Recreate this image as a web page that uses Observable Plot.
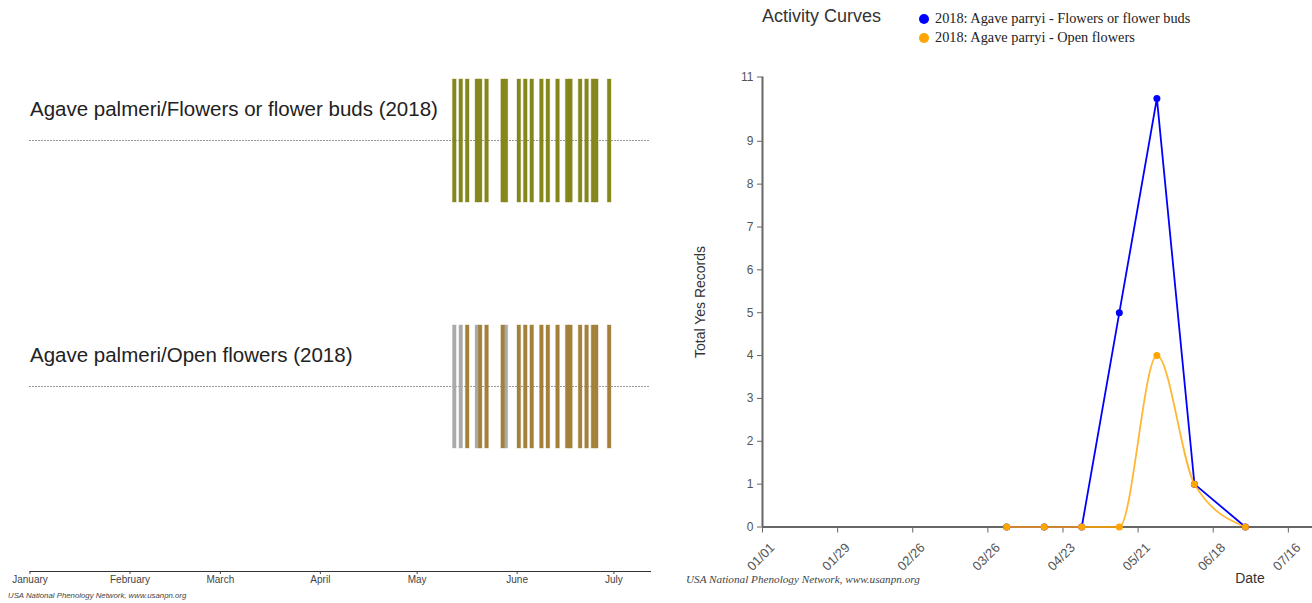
<!DOCTYPE html>
<html><head><meta charset="utf-8">
<script src="https://cdn.jsdelivr.net/npm/d3@7"></script>
<script src="https://cdn.jsdelivr.net/npm/@observablehq/plot@0.6"></script>
<style>
body{margin:0;background:#fff;}
#wrap{position:relative;width:1312px;height:603px;overflow:hidden;}
.abs{position:absolute;white-space:nowrap;line-height:1;}
.sans{font-family:"Liberation Sans",Arial,sans-serif;}
.serif{font-family:"Liberation Serif","Times New Roman",serif;}
.sw{position:absolute;width:10px;height:10px;border-radius:50%;}
</style></head><body><div id="wrap"></div>
<script>
// ---------- data ----------
const rows = ["Agave palmeri/Flowers or flower buds (2018)", "Agave palmeri/Open flowers (2018)"];
const budDates = ["2018-05-13","2018-05-15","2018-05-17","2018-05-20","2018-05-21","2018-05-23","2018-05-28","2018-05-29",
  "2018-06-02","2018-06-04","2018-06-06","2018-06-09","2018-06-11","2018-06-14","2018-06-17","2018-06-18",
  "2018-06-21","2018-06-23","2018-06-25","2018-06-26","2018-06-30"];
const openNoDates = ["2018-05-13","2018-05-15","2018-05-20","2018-05-29"];
const openYesDates = ["2018-05-17","2018-05-21","2018-05-23","2018-05-28",
  "2018-06-02","2018-06-04","2018-06-06","2018-06-09","2018-06-11","2018-06-14","2018-06-17","2018-06-18",
  "2018-06-21","2018-06-23","2018-06-25","2018-06-26","2018-06-30"];
const monthTicks = ["2018-01-01","2018-02-01","2018-03-01","2018-04-01","2018-05-01","2018-06-01","2018-07-01"];

const curveDates = ["2018-04-02","2018-04-16","2018-04-30","2018-05-14","2018-05-28","2018-06-11","2018-06-30"];
const budCounts  = [0, 0, 0, 5, 10, 1, 0];
const openCounts = [0, 0, 0, 0, 4, 1, 0];
const dateTicks = ["2018-01-01","2018-01-29","2018-02-26","2018-03-26","2018-04-23","2018-05-21","2018-06-18","2018-07-16"];
const yMax = 10.5;
const yTicks = [0, 1, 2, 3, 4, 5, 6, 7, 8, 9, yMax];
const seriesNames = ["2018: Agave parryi - Flowers or flower buds", "2018: Agave parryi - Open flowers"];
const seriesColors = ["blue", "orange"];

// ---------- build ----------
const parse = d3.utcParse("%Y-%m-%d");
const wrap = document.getElementById("wrap");
const font = "Liberation Sans, Arial, sans-serif";

const calData = [
  ...budDates.map(d => ({row: rows[0], date: parse(d), status: "buds"})),
  ...openNoDates.map(d => ({row: rows[1], date: parse(d), status: "no"})),
  ...openYesDates.map(d => ({row: rows[1], date: parse(d), status: "open"}))
];
const half = 13.5; // hours either side of the day

const left = Plot.plot({
  width: 660, height: 603,
  marginLeft: 29.5, marginRight: 10, marginTop: 0, marginBottom: 32,
  style: {fontFamily: font, background: "transparent", overflow: "visible"},
  x: {type: "utc", domain: [parse("2018-01-01"), new Date(Date.UTC(2018, 6, 12, 8))]},
  y: {type: "band", domain: rows, range: [79, 448], paddingInner: 0.5, paddingOuter: 0, axis: null},
  color: {domain: ["buds", "no", "open"], range: ["#85861b", "#aaaaaa", "#a3803b"]},
  marks: [
    Plot.ruleY(rows, {y: d => d, stroke: "#333", strokeDasharray: "1,2", strokeWidth: 1, dy: -0.5}),
    Plot.barX(calData, {
      x1: d => d3.utcHour.offset(d.date, -half), x2: d => d3.utcHour.offset(d.date, half),
      y: "row", fill: "status", stroke: "status", strokeOpacity: 0.35, strokeWidth: 1, dx: -1
    }),
    Plot.text(rows, {y: d => d, text: d => d, frameAnchor: "left", textAnchor: "start", dy: -32, fontSize: 20.5, fill: "#222"}),
    Plot.axisX({ticks: monthTicks.map(parse), tickFormat: d3.utcFormat("%B"), tickSize: 3, tickPadding: 1,
      fontSize: 10, fill: "#444", stroke: "#444", label: null}),
    Plot.frame({anchor: "bottom", stroke: "#333"})
  ]
});
left.style.position = "absolute"; left.style.left = "0px"; left.style.top = "0px";
wrap.appendChild(left);

const budSeries = curveDates.map((d, i) => ({date: parse(d), value: budCounts[i]}));
const openSeries = curveDates.map((d, i) => ({date: parse(d), value: openCounts[i]}));
const fmt = d3.utcFormat("%m/%d");

const right = Plot.plot({
  width: 632, height: 603,
  marginLeft: 82, marginRight: 0, marginTop: 76.5, marginBottom: 76.5,
  style: {fontFamily: font, background: "transparent", overflow: "visible"},
  x: {type: "utc", domain: [parse("2018-01-01"), parse("2018-07-25")]},
  y: {domain: [0, yMax]},
  marks: [
    Plot.axisY({ticks: yTicks, tickFormat: d => String(Math.round(d)), tickSize: 5, tickPadding: 4,
      fontSize: 12, fill: "#555", stroke: "#666", label: null}),
    Plot.axisX({ticks: dateTicks.map(parse), tickFormat: () => "", tickSize: 6, stroke: "#666", label: null}),
    Plot.text(dateTicks.map(parse), {x: d => d, frameAnchor: "bottom", text: d => fmt(d), rotate: -45,
      textAnchor: "middle", lineAnchor: "middle", dy: 30, dx: -1.5, fontSize: 13, fill: "#555"}),
    Plot.ruleY([0], {stroke: "#666", strokeWidth: 2}),
    Plot.ruleX([parse("2018-01-01")], {y1: 0, y2: yMax, stroke: "#666", strokeWidth: 2}),
    Plot.line(budSeries, {x: "date", y: "value", stroke: seriesColors[0], strokeWidth: 1.8}),
    Plot.dot(budSeries, {x: "date", y: "value", r: 3.5, fill: seriesColors[0]}),
    Plot.line(openSeries, {x: "date", y: "value", stroke: seriesColors[1], strokeWidth: 1.8, strokeOpacity: 0.8, curve: "monotone-x"}),
    Plot.dot(openSeries, {x: "date", y: "value", r: 3.5, fill: seriesColors[1]}),
    Plot.text(["Total Yes Records"], {frameAnchor: "left", textAnchor: "middle", lineAnchor: "middle", rotate: -90,
      dx: -62, fontSize: 14, fill: "#333", text: d => d}),
    Plot.text(["Date"], {frameAnchor: "bottom-right", textAnchor: "middle", lineAnchor: "middle",
      dx: -62.5, dy: 51.5, fontSize: 14, fill: "#333", text: d => d})
  ]
});
right.style.position = "absolute"; right.style.left = "680px"; right.style.top = "0px";
wrap.appendChild(right);

// ---------- titles, legend, captions ----------
function addText(txt, cls, x, top, size, extra) {
  const el = document.createElement("div");
  el.className = "abs " + cls;
  el.textContent = txt;
  el.style.left = x + "px"; el.style.top = top + "px"; el.style.fontSize = size + "px";
  Object.assign(el.style, extra || {});
  wrap.appendChild(el);
  return el;
}
addText("Activity Curves", "sans", 762, 7.1, 18, {color: "#333"});
seriesNames.forEach((name, i) => {
  const sw = document.createElement("div");
  sw.className = "sw";
  sw.style.background = seriesColors[i];
  sw.style.left = (924.3 - 5) + "px";
  sw.style.top = (19 + i * 18.7 - 5) + "px";
  wrap.appendChild(sw);
  addText(name, "serif", 935, 19 + i * 18.7 + 4.3 - 12, 14.3, {color: "#222"});
});
addText("USA National Phenology Network, www.usanpn.org", "serif", 686, 573.6, 11.2, {fontStyle: "italic", color: "#444"});
addText("USA National Phenology Network, www.usanpn.org", "sans", 8, 592.4, 7.8, {fontStyle: "italic", color: "#444"});
</script></body></html>
